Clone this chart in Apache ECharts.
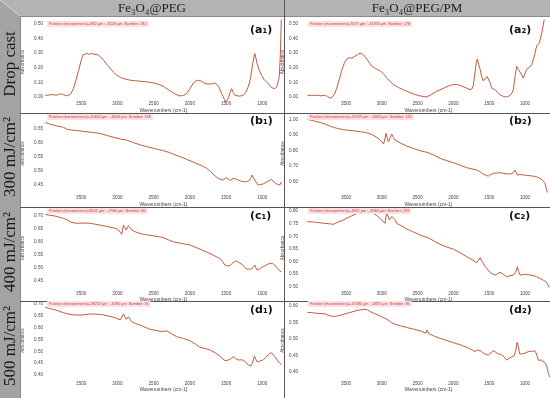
<!DOCTYPE html>
<html><head><meta charset="utf-8">
<script src="https://cdn.jsdelivr.net/npm/echarts@6/dist/echarts.min.js"></script>
<style>html,body{margin:0;padding:0;background:#fff}#c{width:550px;height:398px}</style>
</head><body><div id="c"></div>
<script>
// ---------- texts ----------
const columnHeaders = ['Fe₃O₄@PEG', 'Fe₃O₄@PEG/PM'];
const rowLabels = ['Drop cast', '300 mJ/cm²', '400 mJ/cm²', '500 mJ/cm²'];
const panelLabels = ['(a₁)', '(a₂)', '(b₁)', '(b₂)', '(c₁)', '(c₂)', '(d₁)', '(d₂)'];
const positionTexts = [
  'Position (micrometers)=-882 µm : -8243 µm  Number: 232',
  'Position (micrometers)=7057 µm : -11763 µm  Number: 178',
  'Position (micrometers)=-10652 µm : -6016 µm  Number: 136',
  'Position (micrometers)=-29739 µm : -6626 µm  Number: 140',
  'Position (micrometers)=3541 µm : -7960 µm  Number: 36',
  'Position (micrometers)=-4811 µm : -6360 µm  Number: 237',
  'Position (micrometers)=-28231 µm : -6390 µm  Number: 36',
  'Position (micrometers)=-17480 µm : -6870 µm  Number: 36'
];
const xAxisName = 'Wavenumbers (cm-1)';
const yAxisName = 'Absorbance';

// ---------- tick labels ----------
const xTickLabels = [3500, 3000, 2500, 2000, 1500, 1000];
const yTicksA1 = [0.00, 0.10, 0.20, 0.30, 0.40, 0.50];
const yTicksA2 = [0.00, 0.10, 0.20, 0.30, 0.40, 0.50];
const yTicksB1 = [0.45, 0.50, 0.55, 0.60, 0.65];
const yTicksB2 = [0.60, 0.70, 0.80, 0.90, 1.00];
const yTicksC1 = [0.45, 0.50, 0.55, 0.60, 0.65, 0.70];
const yTicksC2 = [0.50, 0.55, 0.60, 0.65, 0.70, 0.75, 0.80];
const yTicksD1 = [0.40, 0.45, 0.50, 0.55, 0.60, 0.65, 0.70];
const yTicksD2 = [0.40, 0.45, 0.50, 0.55, 0.60];

// ---------- spectra [wavenumber, absorbance] ----------
const spectrumA1 = [[3996,0.011],[3940,0.014],[3882,0.016],[3840,0.012],[3789,0.023],[3740,0.015],[3697,0.007],[3651,0.018],[3606,0.057],[3570,0.12],[3537,0.18],[3500,0.25],[3477,0.287],[3450,0.295],[3422,0.298],[3390,0.292],[3360,0.297],[3330,0.294],[3295,0.29],[3262,0.287],[3230,0.272],[3193,0.252],[3150,0.225],[3100,0.195],[3055,0.17],[3010,0.149],[2960,0.135],[2917,0.126],[2870,0.12],[2825,0.115],[2750,0.111],[2687,0.108],[2600,0.104],[2504,0.096],[2440,0.088],[2366,0.073],[2300,0.05],[2229,0.028],[2180,0.015],[2136,0.007],[2090,0.01],[2045,0.023],[2000,0.055],[1953,0.096],[1915,0.11],[1884,0.115],[1840,0.108],[1792,0.092],[1740,0.088],[1700,0.09],[1678,0.092],[1650,0.096],[1631,0.094],[1600,0.07],[1562,0.023],[1530,-0.01],[1505,-0.035],[1490,-0.04],[1470,-0.01],[1445,0.03],[1424,0.057],[1400,0.03],[1375,0.01],[1355,0.005],[1310,0.006],[1264,0.011],[1230,0.03],[1195,0.069],[1165,0.12],[1140,0.206],[1120,0.26],[1103,0.298],[1090,0.27],[1072,0.229],[1040,0.18],[1011,0.149],[975,0.12],[942,0.103],[905,0.085],[873,0.064],[850,0.058],[828,0.057],[800,0.068],[782,0.08],[765,0.14],[750,0.3],[738,0.52],[728,0.6]];
const spectrumA2 = [[4040,0.008],[4000,0.012],[3950,0.01],[3900,0.013],[3850,0.008],[3800,0.011],[3760,0.005],[3723,-0.008],[3690,0.0],[3660,0.02],[3630,0.06],[3595,0.12],[3560,0.18],[3525,0.23],[3490,0.26],[3450,0.27],[3420,0.265],[3374,0.28],[3340,0.29],[3304,0.3],[3270,0.295],[3240,0.28],[3211,0.26],[3175,0.235],[3141,0.21],[3100,0.2],[3071,0.19],[3030,0.18],[3001,0.17],[2960,0.15],[2932,0.13],[2880,0.105],[2839,0.085],[2770,0.065],[2699,0.05],[2630,0.035],[2560,0.02],[2470,0.008],[2373,0.0],[2300,0.02],[2233,0.04],[2160,0.055],[2094,0.07],[2040,0.08],[2001,0.085],[1940,0.085],[1884,0.075],[1820,0.062],[1768,0.05],[1740,0.055],[1722,0.08],[1700,0.16],[1680,0.24],[1666,0.26],[1645,0.22],[1628,0.19],[1605,0.14],[1582,0.11],[1555,0.12],[1530,0.14],[1512,0.14],[1490,0.1],[1465,0.06],[1419,0.05],[1380,0.03],[1349,0.015],[1300,0.003],[1256,0.0],[1210,0.01],[1180,0.03],[1163,0.05],[1140,0.14],[1116,0.21],[1095,0.19],[1070,0.17],[1045,0.15],[1023,0.13],[1000,0.16],[977,0.19],[945,0.2],[907,0.22],[870,0.28],[837,0.35],[800,0.37],[760,0.45],[721,0.56]];
const spectrumB1 = [[3996,0.674],[3940,0.669],[3882,0.665],[3810,0.66],[3744,0.657],[3697,0.65],[3630,0.647],[3560,0.645],[3490,0.643],[3422,0.641],[3330,0.638],[3239,0.635],[3150,0.628],[3055,0.621],[2960,0.615],[2871,0.611],[2780,0.602],[2687,0.594],[2600,0.588],[2504,0.582],[2420,0.576],[2375,0.574],[2366,0.578],[2350,0.573],[2290,0.567],[2229,0.561],[2140,0.552],[2045,0.542],[1950,0.532],[1861,0.522],[1810,0.516],[1770,0.51],[1720,0.5],[1678,0.489],[1640,0.48],[1609,0.474],[1570,0.47],[1540,0.468],[1515,0.474],[1493,0.477],[1470,0.472],[1447,0.466],[1420,0.47],[1401,0.474],[1365,0.472],[1332,0.468],[1300,0.465],[1264,0.462],[1230,0.462],[1195,0.464],[1165,0.47],[1140,0.486],[1120,0.475],[1103,0.468],[1080,0.458],[1057,0.45],[1020,0.452],[988,0.454],[960,0.458],[942,0.462],[905,0.466],[873,0.47],[850,0.465],[828,0.458],[790,0.452],[759,0.45],[736,0.462]];
const spectrumB2 = [[4040,1.0],[4000,0.996],[3950,0.99],[3910,0.985],[3860,0.98],[3793,0.97],[3740,0.96],[3677,0.949],[3620,0.942],[3560,0.936],[3480,0.93],[3398,0.927],[3300,0.921],[3211,0.914],[3140,0.903],[3071,0.884],[3030,0.87],[3001,0.857],[2975,0.842],[2955,0.88],[2941,0.91],[2925,0.88],[2909,0.857],[2885,0.88],[2862,0.906],[2840,0.885],[2816,0.867],[2740,0.848],[2653,0.829],[2560,0.814],[2467,0.799],[2400,0.792],[2373,0.79],[2350,0.786],[2270,0.77],[2187,0.75],[2100,0.736],[2001,0.722],[1900,0.705],[1815,0.69],[1740,0.682],[1675,0.675],[1630,0.664],[1582,0.649],[1540,0.64],[1512,0.636],[1480,0.646],[1443,0.653],[1400,0.656],[1349,0.658],[1280,0.652],[1210,0.649],[1170,0.655],[1140,0.675],[1120,0.656],[1107,0.643],[1070,0.646],[1023,0.643],[960,0.64],[884,0.636],[830,0.63],[791,0.621],[750,0.607],[721,0.589],[698,0.547],[670,0.5]];
const spectrumC1 = [[3996,0.705],[3940,0.702],[3882,0.7],[3810,0.695],[3744,0.69],[3680,0.682],[3629,0.674],[3560,0.671],[3470,0.672],[3376,0.671],[3300,0.667],[3239,0.664],[3150,0.659],[3055,0.654],[3000,0.648],[2963,0.639],[2940,0.629],[2917,0.664],[2880,0.645],[2849,0.662],[2803,0.645],[2750,0.638],[2687,0.632],[2600,0.627],[2504,0.623],[2420,0.619],[2366,0.616],[2300,0.608],[2229,0.6],[2120,0.594],[2000,0.588],[1930,0.58],[1861,0.572],[1760,0.56],[1678,0.549],[1620,0.541],[1586,0.537],[1550,0.524],[1516,0.511],[1480,0.508],[1447,0.509],[1420,0.516],[1401,0.521],[1375,0.527],[1355,0.527],[1320,0.52],[1286,0.514],[1250,0.505],[1218,0.496],[1180,0.495],[1149,0.496],[1125,0.502],[1103,0.511],[1088,0.5],[1072,0.492],[1030,0.498],[988,0.505],[940,0.512],[896,0.518],[860,0.517],[828,0.511],[790,0.498],[759,0.488],[740,0.485]];
const spectrumC2 = [[4040,0.758],[4000,0.757],[3950,0.756],[3910,0.755],[3850,0.753],[3793,0.751],[3720,0.749],[3677,0.747],[3653,0.752],[3600,0.758],[3560,0.761],[3500,0.77],[3444,0.778],[3370,0.787],[3304,0.795],[3250,0.799],[3211,0.8],[3160,0.797],[3118,0.791],[3070,0.782],[3025,0.771],[2985,0.76],[2955,0.751],[2932,0.798],[2915,0.78],[2895,0.765],[2860,0.778],[2839,0.784],[2815,0.765],[2792,0.751],[2720,0.74],[2653,0.729],[2560,0.717],[2467,0.705],[2400,0.698],[2350,0.694],[2270,0.681],[2187,0.668],[2100,0.658],[2001,0.649],[1900,0.634],[1815,0.619],[1740,0.607],[1675,0.595],[1650,0.605],[1628,0.615],[1600,0.6],[1572,0.586],[1530,0.571],[1489,0.557],[1450,0.55],[1419,0.546],[1380,0.552],[1349,0.557],[1300,0.548],[1256,0.54],[1210,0.543],[1163,0.546],[1130,0.558],[1107,0.579],[1090,0.56],[1070,0.546],[1023,0.548],[977,0.549],[930,0.546],[884,0.544],[840,0.54],[791,0.533],[740,0.525],[698,0.517],[675,0.505],[660,0.493]];
const spectrumD1 = [[3996,0.686],[3940,0.681],[3882,0.677],[3810,0.67],[3744,0.663],[3680,0.658],[3606,0.654],[3530,0.653],[3468,0.654],[3400,0.657],[3330,0.658],[3260,0.656],[3193,0.654],[3120,0.649],[3055,0.644],[3000,0.638],[2960,0.633],[2940,0.63],[2917,0.658],[2880,0.635],[2849,0.646],[2803,0.625],[2750,0.617],[2687,0.611],[2620,0.602],[2550,0.593],[2450,0.587],[2366,0.583],[2320,0.587],[2260,0.575],[2183,0.562],[2090,0.554],[2000,0.545],[1930,0.532],[1861,0.517],[1790,0.512],[1724,0.506],[1650,0.494],[1586,0.48],[1545,0.468],[1516,0.461],[1480,0.462],[1447,0.466],[1420,0.473],[1401,0.477],[1370,0.47],[1332,0.463],[1300,0.464],[1264,0.463],[1230,0.455],[1195,0.442],[1160,0.438],[1130,0.455],[1110,0.48],[1100,0.485],[1088,0.465],[1072,0.456],[1040,0.458],[988,0.463],[950,0.475],[910,0.488],[873,0.494],[850,0.49],[820,0.475],[790,0.46],[759,0.45],[735,0.445]];
const spectrumD2 = [[4040,0.58],[4000,0.58],[3950,0.579],[3910,0.578],[3850,0.577],[3793,0.576],[3750,0.572],[3723,0.57],[3677,0.568],[3620,0.57],[3560,0.573],[3500,0.577],[3444,0.58],[3370,0.585],[3304,0.588],[3234,0.59],[3200,0.588],[3164,0.583],[3100,0.577],[3025,0.57],[2980,0.565],[2932,0.56],[2895,0.555],[2862,0.549],[2816,0.545],[2740,0.54],[2653,0.535],[2560,0.53],[2467,0.525],[2420,0.521],[2385,0.517],[2370,0.527],[2363,0.532],[2350,0.522],[2336,0.515],[2260,0.508],[2187,0.502],[2100,0.496],[2001,0.489],[1900,0.482],[1815,0.475],[1750,0.468],[1699,0.462],[1665,0.467],[1638,0.469],[1610,0.463],[1582,0.457],[1540,0.453],[1512,0.452],[1475,0.458],[1443,0.465],[1410,0.46],[1373,0.455],[1330,0.453],[1303,0.452],[1280,0.443],[1256,0.436],[1220,0.442],[1186,0.446],[1150,0.45],[1130,0.465],[1110,0.49],[1102,0.492],[1090,0.475],[1075,0.455],[1060,0.452],[1030,0.455],[1000,0.457],[954,0.462],[900,0.463],[861,0.464],[840,0.455],[814,0.436],[790,0.437],[768,0.436],[745,0.432],[721,0.428],[700,0.42],[674,0.396],[655,0.385]];

const spectra = [spectrumA1, spectrumA2, spectrumB1, spectrumB2, spectrumC1, spectrumC2, spectrumD1, spectrumD2];
const yTicks = [yTicksA1, yTicksA2, yTicksB1, yTicksB2, yTicksC1, yTicksC2, yTicksD1, yTicksD2];

// ---------- layout ----------
const cols = [
  {left: 45, width: 237, xmin: 728, xmax: 4000, yMargin: 2, yNameGap: 19.5, titleLeft: 47, labelX: 262},
  {left: 307, width: 243, xmin: 651, xmax: 4045, yMargin: 9, yNameGap: 17.5, titleLeft: 308, labelX: 521}
];
const rows = [
  {top: 20, height: 84, xOffset: -2.5, xNameGap: 7, titleTop: 21, labelY: 32},
  {top: 115, height: 77, xOffset: 3.5, xNameGap: 7, titleTop: 114, labelY: 123},
  {top: 209, height: 78, xOffset: 4.5, xNameGap: 5, titleTop: 208, labelY: 218},
  {top: 302, height: 77, xOffset: 2.5, xNameGap: 6, titleTop: 301, labelY: 312}
];
const yRanges = [[-0.048,0.527],[-0.048,0.527],[0.425,0.701],[0.534,1.028],[0.427,0.7257],[0.4988,0.808],[0.383,0.7084],[0.379,0.612]];

const lineColor = '#c25b3e';
const smallFont = 'Liberation Sans, Arial, sans-serif';
const grids = [], xAxes = [], yAxes = [], series = [], titles = [];
for (let i = 0; i < 8; i++) {
  const c = cols[i % 2], r = rows[Math.floor(i / 2)];
  grids.push({left: c.left, width: c.width, top: r.top, height: r.height, containLabel: false});
  xAxes.push({
    type: 'value', gridIndex: i, inverse: true, min: c.xmin, max: c.xmax, offset: r.xOffset,
    axisLine: {show: false}, axisTick: {show: false}, splitLine: {show: false},
    axisLabel: {customValues: xTickLabels, formatter: v => String(v), fontSize: 4.6, color: '#444', margin: 0, fontFamily: smallFont},
    name: xAxisName, nameLocation: 'middle', nameGap: r.xNameGap,
    nameTextStyle: {fontSize: 5, color: '#444', fontFamily: smallFont}
  });
  yAxes.push({
    type: 'value', gridIndex: i, min: yRanges[i][0], max: yRanges[i][1],
    axisLine: {show: false}, axisTick: {show: false}, splitLine: {show: false},
    axisLabel: {customValues: yTicks[i], formatter: v => v.toFixed(2), fontSize: 4.6, color: '#444', margin: c.yMargin, fontFamily: smallFont},
    name: yAxisName, nameLocation: 'middle', nameGap: c.yNameGap,
    nameTextStyle: {fontSize: 4.6, color: '#444', fontFamily: smallFont}
  });
  series.push({
    type: 'line', xAxisIndex: i, yAxisIndex: i, data: spectra[i], showSymbol: false,
    lineStyle: {color: lineColor, width: 1}, silent: true, animation: false
  });
  titles.push({
    text: positionTexts[i], left: c.titleLeft, top: r.titleTop, padding: [1, 2, 1, 2],
    backgroundColor: '#fbe1e4',
    textStyle: {fontSize: 3.8, color: '#d0362f', fontWeight: 'normal', fontFamily: smallFont}
  });
  titles.push({
    text: panelLabels[i], left: c.labelX - 12, top: r.labelY - 7, padding: 0,
    textStyle: {fontSize: 11, color: '#111', fontWeight: 'bold', fontFamily: 'DejaVu Sans, sans-serif'}
  });
}

// ---------- frame graphics ----------
const serif = '"Liberation Serif", "DejaVu Serif", serif';
const graphic = [
  {type: 'rect', shape: {x: 0, y: 0, width: 550, height: 16}, style: {fill: '#b3b3b3'}, z: 0},
  {type: 'polygon', shape: {points: [[0,0],[20,16],[20,398],[0,398]]}, style: {fill: '#a3a3a3'}, z: 0},
  {type: 'line', shape: {x1: 0, y1: 0, x2: 20, y2: 16}, style: {stroke: '#d2d2d2', lineWidth: 1}, z: 1},
  {type: 'line', shape: {x1: 20, y1: 16.5, x2: 550, y2: 16.5}, style: {stroke: '#8a8a8a', lineWidth: 1}, z: 1},
  {type: 'line', shape: {x1: 20.5, y1: 16, x2: 20.5, y2: 398}, style: {stroke: '#8a8a8a', lineWidth: 1}, z: 1},
  {type: 'line', shape: {x1: 284.5, y1: 0, x2: 284.5, y2: 398}, style: {stroke: '#555', lineWidth: 1}, z: 1},
  {type: 'line', shape: {x1: 20, y1: 113.5, x2: 550, y2: 113.5}, style: {stroke: '#555', lineWidth: 1}, z: 1},
  {type: 'line', shape: {x1: 20, y1: 207.5, x2: 550, y2: 207.5}, style: {stroke: '#555', lineWidth: 1}, z: 1},
  {type: 'line', shape: {x1: 20, y1: 301.5, x2: 550, y2: 301.5}, style: {stroke: '#555', lineWidth: 1}, z: 1}
];
const headerX = [152, 417];
columnHeaders.forEach((t, k) => graphic.push({
  type: 'text', x: headerX[k], y: 9, z: 2,
  style: {text: t, font: '13px ' + serif, fill: '#1a1a1a', align: 'center', verticalAlign: 'middle', textAlign: 'center', textVerticalAlign: 'middle'}
}));
const rowY = [64, 157, 252, 346];
rowLabels.forEach((t, k) => graphic.push({
  type: 'text', x: 11, y: rowY[k], rotation: Math.PI / 2, z: 2,
  style: {text: t, font: '17px ' + serif, fill: '#1a1a1a', align: 'center', verticalAlign: 'middle', textAlign: 'center', textVerticalAlign: 'middle'}
}));

const chart = echarts.init(document.getElementById('c'), null, {renderer: 'canvas'});
chart.setOption({
  backgroundColor: '#fff', animation: false,
  title: titles, grid: grids, xAxis: xAxes, yAxis: yAxes, series: series, graphic: graphic
});
</script></body></html>
